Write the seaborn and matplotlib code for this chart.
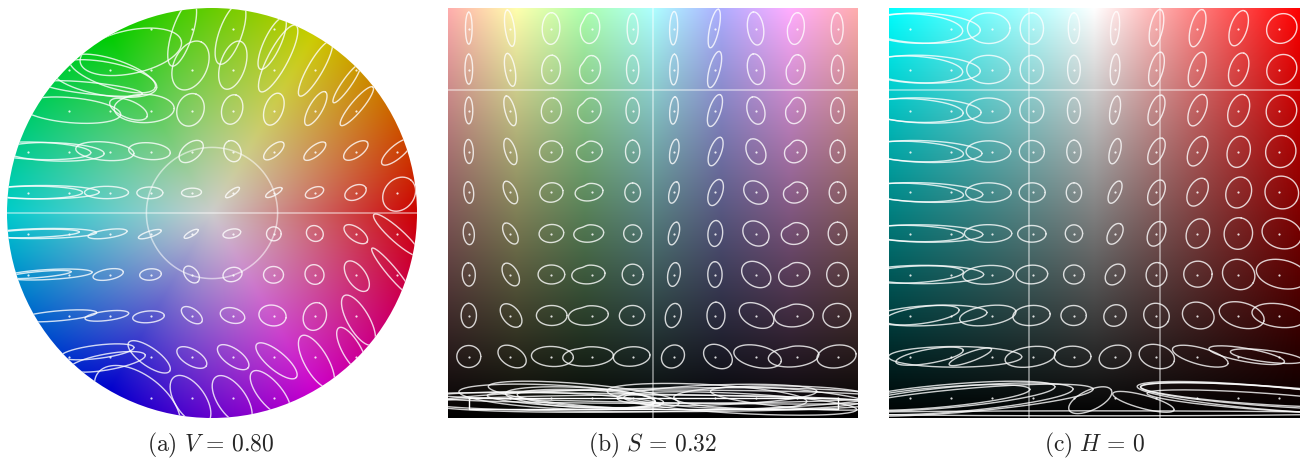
#!/usr/bin/env python3
# coding: utf-8

import matplotlib
matplotlib.use("Agg")
import matplotlib.pyplot as plt
from matplotlib.colors import hsv_to_rgb
from matplotlib.patches import Circle
import seaborn as sns
import numpy as np
import pandas as pd

# --- grid where the ellipses are centred ---
a_x = [-0.9, -0.7, -0.5, -0.3, -0.1, 0.1, 0.3, 0.5, 0.7, 0.9]
a_y = [0.9, 0.7, 0.5, 0.3, 0.1, -0.1, -0.3, -0.5, -0.7, -0.9]
b_x = [18, 54, 90, 126, 162, 198, 234, 270, 306, 342]
c_x = [-0.9, -0.7, -0.5, -0.3, -0.1, 0.1, 0.3, 0.5, 0.7, 0.9]
v_y = [0.95, 0.85, 0.75, 0.65, 0.55, 0.45, 0.35, 0.25, 0.15, 0.05]

V_SLICE = 0.80
S_SLICE = 0.32

# --- ellipses: (major, minor, angle, dx, dy) in 1/3 pixel ---
# panel a: the first cell of each row, then its cells
a_start = [3, 1, 1, 0, 0, 0, 0, 1, 1, 3]
a_row0 = [(310, 130, 12, -59, -70), (205, 62, 72, -28, -15), (195, 68, 70, -6, -15), (170, 50, 65, -4, -45)]
a_row1 = [(300, 35, -6, 72, -57), (270, 85, -18, 9, -12), (320, 100, -10, -139, -27), (155, 100, 65, -3, 12),
          (150, 75, 72, 1, 13), (225, 60, 62, 14, 33), (190, 45, 60, 3, 3), (140, 28, 55, -26, -42)]
a_row2 = [(300, 75, -5, 7, 1), (120, 52, -22, 57, 4), (180, 85, 0, -19, 6), (100, 80, 70, -3, 2),
          (90, 62, 75, -1, 3), (100, 55, 70, 1, 4), (115, 40, 60, 4, 6), (150, 35, 50, 4, 13)]
a_row3 = [(320, 52, -2, 30, 2), (300, 55, -2, -43, -1), (175, 55, -5, -14, 1), (125, 50, -5, -3, 1), (85, 50, 40, -1, 0),
          (65, 50, 110, 0, 1), (75, 33, 40, 1, 2), (80, 32, 38, 1, 1), (85, 40, 35, 1, 3), (115, 40, 40, 1, -1)]
a_row4 = [(290, 38, 0, 20, 0), (340, 40, 0, -78, 1), (132, 37, 0, -9, 0), (78, 35, 0, -2, -1), (60, 26, 3, 0, 0),
          (50, 16, 35, 0, 0), (55, 18, 28, 1, 0), (58, 30, 22, 0, 0), (68, 42, 25, 0, 0), (110, 90, 50, 8, -5)]
a_row5 = [(270, 24, 2, 20, 0), (320, 30, 1, -76, 0), (118, 25, 8, -6, -1), (72, 18, 18, -2, -2), (48, 15, 30, -1, -1),
          (54, 26, 12, -2, 0), (44, 42, 0, 1, -1), (52, 46, -30, 1, 0), (82, 40, -35, 1, -2), (185, 40, -42, 1, -5)]
a_row6 = [(190, 18, 5, 36, 0), (260, 30, 3, -59, 0), (92, 32, 10, -4, 0), (65, 34, 5, 0, 0), (58, 38, -50, 0, 0),
          (58, 42, 15, 0, 0), (60, 50, 0, 0, -1), (60, 56, -60, 0, 0), (105, 55, -55, 4, -5), (185, 30, -50, -14, 8)]
a_row7 = [(230, 30, 5, -30, -1), (132, 28, 7, -8, -1), (95, 35, 5, -6, -4), (72, 38, -35, 1, 1),
          (75, 45, -15, 0, 0), (82, 62, -10, -3, 0), (85, 68, 70, 1, -3), (170, 65, -60, 9, -14)]
a_row8 = [(220, 40, 7, 87, 14), (230, 48, 10, -6, -16), (150, 55, -35, -4, -1), (100, 48, -30, 1, -3),
          (110, 50, -35, 2, -2), (155, 55, -40, 9, -13), (180, 70, -60, 6, -16), (155, 55, -60, -11, 19)]
a_row9 = [(300, 170, -38, -39, -18), (170, 90, -55, -3, -8), (170, 85, -55, -1, -8), (170, 70, -50, -9, 12)]

# panel b
b_row0 = [(96, 20, 90, 0, 1), (110, 28, 98, 0, 1), (95, 53, 88, 1, 0), (92, 58, 85, -5, 1), (92, 33, 90, 0, -1),
          (100, 24, 88, 0, 1), (118, 28, 78, -1, 0), (100, 48, 98, 0, 0), (96, 50, 83, -2, 0), (94, 36, 90, -1, 0)]
b_row1 = [(90, 23, 90, 0, 1), (100, 30, 100, 1, -1), (86, 56, 85, 1, 0), (85, 62, 80, -5, 0), (85, 37, 90, 0, 0),
          (92, 25, 88, 1, 0), (112, 32, 75, 0, 0), (93, 50, 100, 1, 1), (90, 55, 80, -3, 0), (85, 37, 90, 0, 0)]
b_row2 = [(80, 24, 90, 0, 0), (92, 30, 105, 1, -1), (76, 60, 80, 2, 0), (78, 68, 60, -7, 0), (76, 40, 90, 0, 0),
          (82, 25, 85, 1, 0), (100, 35, 72, 1, 0), (84, 52, 105, 1, 0), (80, 58, 75, -3, 0), (77, 41, 90, 0, 0)]
b_row3 = [(72, 27, 92, 0, 0), (82, 32, 108, 2, 0), (70, 63, 20, 1, 0), (78, 62, 10, -7, 0), (68, 43, 90, 0, 0),
          (74, 26, 80, 2, 0), (90, 35, 70, 3, 0), (80, 55, 115, 1, 0), (72, 62, 50, -3, 0), (68, 45, 90, 0, 0)]
b_row4 = [(65, 29, 95, 0, 0), (73, 34, 115, 2, 0), (70, 58, 10, 2, 0), (84, 52, 8, -8, 1), (57, 47, 90, 0, 0),
          (66, 28, 75, 1, 0), (82, 40, 70, 3, 0), (80, 62, -40, 1, 0), (74, 62, 20, -3, 0), (64, 50, 90, 0, 0)]
b_row5 = [(67, 33, 95, 0, 0), (70, 36, 120, 2, 0), (74, 54, 5, 2, 0), (90, 52, 5, -9, 0), (54, 52, 0, 0, 0),
          (70, 30, 75, 1, 0), (78, 44, 85, 2, 0), (85, 68, -40, 1, 0), (82, 65, 10, -5, 0), (68, 56, 90, 0, 0)]
b_row6 = [(70, 39, 92, 0, 0), (75, 42, 120, 3, 0), (80, 57, 0, 2, 0), (100, 56, 5, -10, 0), (63, 62, 0, 0, 0),
          (72, 37, 80, 1, 0), (77, 43, 90, 1, 0), (95, 70, -35, 2, 0), (95, 70, 15, -7, 0), (72, 65, 90, 0, 0)]
b_row7 = [(73, 46, 90, 0, 0), (82, 50, -50, 4, 0), (92, 60, 0, 3, 0), (120, 58, 5, -10, 0), (76, 60, 5, -2, 0),
          (74, 46, 75, -1, 0), (80, 54, 90, 4, 0), (110, 68, -25, 3, 0), (118, 68, 5, -8, 0), (84, 72, 10, -2, 0)]
b_row8 = [(72, 66, 0, 0, 0), (92, 58, -30, 7, 0), (126, 60, -3, 5, 0), (152, 58, 3, -11, 0), (110, 58, 5, -3, 0),
          (74, 64, 45, -2, 0), (92, 66, -30, 10, 0), (145, 65, -12, 6, 0), (152, 62, 5, -9, 0), (118, 68, 8, -3, 0)]
b_row9 = [(590, 70, -3, 265, 2), (575, 65, -5, 222, 8), (450, 60, -3, 89, 0), (440, 50, -3, -4, -3), (520, 40, -3, -177, -8),
          (600, 70, -3, 100, 4), (600, 60, 2, 7, 8), (600, 70, 0, 54, 0), (500, 55, -5, -9, -3), (700, 60, -3, -292, -18)]
# how deep the notch in the bean shaped outlines is, per row
b_notch_col3 = [0.12, 0.14, 0.16, 0.16, 0.15, 0.13, 0.13, 0.10, 0.08]
b_notch_col8 = [0.14, 0.16, 0.16, 0.16, 0.16, 0.14, 0.14, 0.12, 0.08]
NOTCH_DIR = 130
# flat outlines packed along the bottom of panel b: (major, minor, angle, x, y) in 1/3 pixel from the panel's top left
b_strip = [(1350, 40, 0, 615, 1166), (1350, 70, 1, 615, 1176), (1350, 25, -1, 615, 1171), (1350, 50, 0, 615, 1186)]

# panel c
c_row0 = [(295, 88, -3, 12, 0), (340, 90, -2, -81, 1), (128, 92, 0, -9, 1), (94, 70, 90, -3, 0), (92, 34, 90, 0, 1),
          (100, 26, 85, 0, 1), (112, 38, 78, 1, 2), (115, 42, 75, 1, 1), (110, 50, 72, 1, 1), (95, 85, 40, 7, 0)]
c_row1 = [(295, 80, -3, 12, 0), (340, 83, -2, -81, 1), (130, 85, 0, -10, 0), (85, 70, 90, -3, 0), (85, 38, 90, 0, 0),
          (92, 28, 85, 0, 0), (105, 40, 75, 1, 1), (108, 45, 72, 0, 0), (103, 55, 72, 1, 0), (95, 85, 45, 7, 0)]
c_row2 = [(298, 70, -3, 12, 0), (345, 75, -2, -81, 0), (132, 75, 0, -10, 0), (76, 72, 90, -3, 1), (77, 39, 90, 0, 0),
          (85, 30, 80, 0, 1), (95, 42, 70, 1, 1), (100, 48, 68, 1, 1), (100, 60, 70, 1, 0), (96, 90, 60, 6, -1)]
c_row3 = [(300, 60, -3, 12, 0), (350, 65, -2, -81, 0), (134, 64, 0, -10, 0), (75, 66, 0, -3, 0), (68, 43, 90, 0, 0),
          (78, 32, 75, 0, 1), (85, 42, 65, 1, 1), (95, 52, 65, 1, 1), (95, 68, 75, 1, -1), (97, 90, 70, 4, 0)]
c_row4 = [(300, 54, -3, 12, 0), (355, 58, -2, -81, 0), (137, 58, 0, -10, 0), (78, 58, 0, -2, 0), (58, 46, 90, 0, 0),
          (72, 32, 65, 0, 1), (80, 45, 65, 1, 0), (90, 55, 62, 1, 1), (95, 75, 70, 1, 0), (102, 97, -30, 7, 0)]
c_row5 = [(300, 48, -2, 12, 0), (355, 52, -1, -81, 0), (142, 53, 0, -11, 0), (85, 50, 0, -3, -1), (52, 52, 0, 0, 0),
          (68, 40, 60, 0, -1), (78, 50, 65, 1, -1), (90, 68, 70, 2, 0), (95, 85, 80, 0, 0), (120, 90, -15, 7, 0)]
c_row6 = [(300, 50, 3, 12, 0), (360, 55, 0, -81, 0), (152, 56, 3, -11, -1), (95, 56, 3, -3, 0), (62, 57, 0, 0, 0),
          (70, 50, 50, 0, 0), (72, 62, 80, 1, 0), (85, 78, 0, 2, 1), (100, 88, -30, 1, 0), (155, 85, -12, 7, 1)]
c_row7 = [(225, 50, 8, 37, 1), (340, 60, 3, -61, 0), (170, 58, 8, -12, 0), (112, 60, 5, -4, 0), (76, 60, 0, -1, 0),
          (70, 62, 35, 0, 0), (78, 72, -30, 1, 0), (97, 78, -20, 3, 0), (138, 75, -15, 10, 1), (160, 70, -8, -3, 0)]
c_row8 = [(205, 42, 10, 60, 1), (135, 28, 20, 59, -1), (400, 62, 0, -110, -1), (152, 60, 8, -8, -1), (110, 62, 0, -4, 0),
          (97, 68, 15, 0, -1), (108, 70, -15, 2, 0), (172, 50, -15, 9, 1), (230, 40, -10, 25, 4), (220, 35, -7, -38, 1)]
c_row9 = [(560, 60, 5, 82, 0), (650, 70, 5, -11, 4), (680, 75, 5, -95, -4), (760, 70, 5, -198, -8), (140, 60, 25, 49, -8),
          (190, 40, -15, 85, -13), (700, 55, -4, 302, 8), (780, 60, -4, 219, 4), (760, 70, -5, 75, 0), (700, 50, -4, -48, -12)]
c_strip = [(1500, 15, 0, 615, 1216)]

a_rows = [a_row0, a_row1, a_row2, a_row3, a_row4, a_row5, a_row6, a_row7, a_row8, a_row9]
b_rows = [b_row0, b_row1, b_row2, b_row3, b_row4, b_row5, b_row6, b_row7, b_row8, b_row9]
c_rows = [c_row0, c_row1, c_row2, c_row3, c_row4, c_row5, c_row6, c_row7, c_row8, c_row9]

W, H = 1301, 459
LINE = dict(color="white", alpha=0.8, lw=1.0, solid_joinstyle="round")
GUIDE = dict(color="white", alpha=0.55, lw=1.1)

sns.set_theme(style="white")
plt.rcParams["mathtext.fontset"] = "cm"


def panel_axes(fig, left, right, top=8.0, bottom=418.0):
    ax = fig.add_axes([left / W, 1 - bottom / H, (right - left) / W, (bottom - top) / H])
    ax.set_axis_off()
    return ax


def outline(cell, notch=0.0):
    w, h, ang, dx, dy = cell
    t = np.linspace(0, 2 * np.pi, 161)
    u, v = w / 2 * np.cos(t), h / 2 * np.sin(t)
    a = np.deg2rad(ang)
    x, y = u * np.cos(a) - v * np.sin(a), u * np.sin(a) + v * np.cos(a)
    if notch:
        off = (np.arctan2(y, x) - np.deg2rad(NOTCH_DIR) + np.pi) % (2 * np.pi) - np.pi
        scale = 1 - notch * np.exp(-(off / 0.45) ** 2)
        x, y = x * scale, y * scale
    return dx + x, dy + y


def draw_ellipses(ax, rows, xs, ys, starts, x_per_unit, y_per_unit, clip=None, notches=None):
    pts = []
    for r, (row, y0, start) in enumerate(zip(rows, ys, starts)):
        for c, (cell, x0) in enumerate(zip(row, xs[start:])):
            notch = notches.get(c, [0] * 10)[r] if notches and r < 9 else 0.0
            ox, oy = outline(cell, notch)
            line, = ax.plot(x0 + ox * x_per_unit, y0 + oy * y_per_unit, **LINE)
            if clip is not None:
                line.set_clip_path(clip)
            pts.append((x0, y0))
    df = pd.DataFrame(pts, columns=["x", "y"])
    sns.scatterplot(data=df, x="x", y="y", ax=ax, color="white", s=2.5, marker="o", linewidth=0, alpha=0.85, legend=False)
    ax.set_axis_off()


def draw_strip(ax, strip, x0, y0, x_per_unit, y_per_unit):
    for w, h, ang, x, y in strip:
        ox, oy = outline((w, h, ang, x, -y))
        ax.plot(x0 + ox * x_per_unit, y0 + oy * y_per_unit, **LINE)


fig = plt.figure(figsize=(W / 100, H / 100), dpi=100)

# (a) hue/saturation disc
ax = panel_axes(fig, 7, 417)
gx, gy = np.meshgrid(np.linspace(-1, 1, 820), np.linspace(-1, 1, 820))
hue = (np.arctan2(gy, gx) / (2 * np.pi)) % 1
sat = np.clip(np.hypot(gx, gy), 0, 1)
img = ax.imshow(hsv_to_rgb(np.dstack([hue, sat, np.full_like(hue, V_SLICE)])),
                origin="lower", extent=(-1, 1, -1, 1), aspect="auto", interpolation="bilinear")
disc = Circle((0, 0), 1, transform=ax.transData)
img.set_clip_path(disc)
ax.set_xlim(-1, 1)
ax.set_ylim(-1, 1)
ax.axhline(0, **GUIDE)
t = np.linspace(0, 2 * np.pi, 241)
ax.plot(S_SLICE * np.cos(t), S_SLICE * np.sin(t), **GUIDE)
draw_ellipses(ax, a_rows, a_x, a_y, a_start, 1 / 615, 1 / 615, clip=disc)
ax.set_xlim(-1, 1)
ax.set_ylim(-1, 1)

# (b) hue/value plane at fixed saturation
ax = panel_axes(fig, 448.3, 858)
gh, gv = np.meshgrid(np.linspace(0, 1, 820), np.linspace(0, 1, 820))
ax.imshow(hsv_to_rgb(np.dstack([gh, np.full_like(gh, S_SLICE), gv])),
          origin="lower", extent=(0, 360, 0, 1), aspect="auto", interpolation="bilinear")
ax.axhline(V_SLICE, **GUIDE)
ax.axvline(180, **GUIDE)
draw_ellipses(ax, b_rows, b_x, v_y, [0] * 10, 360 / 1230, 1 / 1230,
              notches={3: b_notch_col3, 8: b_notch_col8})
draw_strip(ax, b_strip, 0, 1, 360 / 1230, 1 / 1230)
ax.plot([b_x[0], b_x[9], b_x[9], b_x[0], b_x[0]],
        [v_y[9], v_y[9], v_y[9] - 33 / 1230, v_y[9] - 33 / 1230, v_y[9]], color="white", lw=1.0)
ax.set_xlim(0, 360)
ax.set_ylim(0, 1)

# (c) saturation/value plane through hue 0 and 180
ax = panel_axes(fig, 889, 1300)
gs, gv = np.meshgrid(np.linspace(-1, 1, 820), np.linspace(0, 1, 820))
hue = np.where(gs < 0, 0.5, 0.0)
ax.imshow(hsv_to_rgb(np.dstack([hue, np.abs(gs), gv])),
          origin="lower", extent=(-1, 1, 0, 1), aspect="auto", interpolation="bilinear")
ax.axhline(V_SLICE, **GUIDE)
ax.axvline(-S_SLICE, **GUIDE)
ax.axvline(S_SLICE, **GUIDE)
draw_ellipses(ax, c_rows, c_x, v_y, [0] * 10, 2 / 1233, 1 / 1230)
draw_strip(ax, c_strip, -1, 1, 2 / 1233, 1 / 1230)
ax.set_xlim(-1, 1)
ax.set_ylim(0, 1)

fig.text(211 / W, 1 - 445 / H, r"$\mathrm{(a)}\ V\, =\, 0.80$", ha="center", va="center", fontsize=17)
fig.text(653 / W, 1 - 445 / H, r"$\mathrm{(b)}\ S\, =\, 0.32$", ha="center", va="center", fontsize=17)
fig.text(1095 / W, 1 - 445 / H, r"$\mathrm{(c)}\ H\, =\, 0$", ha="center", va="center", fontsize=17)

fig.savefig("out.png", dpi=100)
